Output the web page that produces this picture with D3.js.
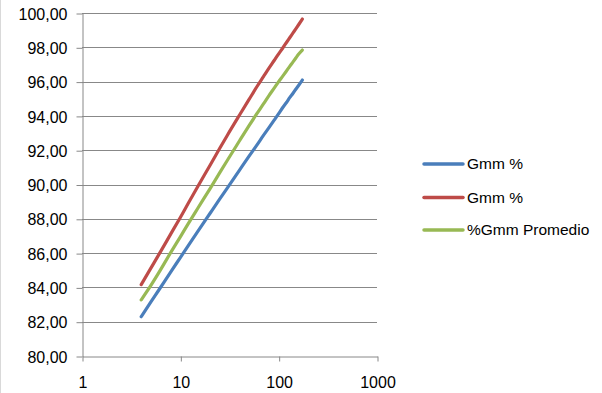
<!DOCTYPE html>
<html>
<head>
<meta charset="utf-8">
<script src="https://cdn.jsdelivr.net/npm/d3@7"></script>
<style>
  body { margin: 0; background: #fff; }
  svg { display: block; font-family: "Liberation Sans", Arial, sans-serif; }
</style>
</head>
<body>
<svg id="chart" width="602" height="393"></svg>
<script>
// gyraciones
var giros = [4, 5, 6, 8, 10, 12, 15, 20, 25, 30, 40, 50, 60, 70, 80, 90, 100, 110, 120, 130, 140, 150, 160, 174];
// series
var gmmA = [82.29, 83.14, 83.82, 84.91, 85.74, 86.42, 87.25, 88.31, 89.13, 89.79, 90.84, 91.65, 92.30, 92.86, 93.33, 93.75, 94.13, 94.49, 94.78, 95.08, 95.32, 95.57, 95.79, 96.09];
var gmmB = [84.16, 85.11, 85.88, 87.12, 88.08, 88.89, 89.87, 91.11, 92.08, 92.86, 94.05, 94.96, 95.70, 96.29, 96.80, 97.23, 97.62, 97.96, 98.28, 98.57, 98.84, 99.09, 99.33, 99.65];
var gmmProm = [83.27, 84.10, 84.83, 86.04, 86.95, 87.70, 88.60, 89.75, 90.66, 91.40, 92.55, 93.43, 94.13, 94.70, 95.20, 95.62, 96.00, 96.32, 96.62, 96.90, 97.15, 97.39, 97.61, 97.84];

var seriesNames = ["Gmm %", "Gmm %", "%Gmm Promedio"];
var seriesColors = ["#4a7ebb", "#be4b48", "#98b954"];
var xTicks = [1, 10, 100, 1000];
var yTicks = [80, 82, 84, 86, 88, 90, 92, 94, 96, 98, 100];

var svg = d3.select("#chart");
var m = {left: 82, right: 377, top: 13, bottom: 356};

var x = d3.scaleLog().domain([1, 1000]).range([m.left, m.right]);
var y = d3.scaleLinear().domain([80, 100]).range([m.bottom, m.top]);

// borde izquierdo del area del grafico
svg.append("line")
  .attr("x1", 0.5).attr("x2", 0.5).attr("y1", 0).attr("y2", 393)
  .attr("stroke", "#d9d9d9");

// lineas de division
svg.append("g").selectAll("line")
  .data(yTicks.slice(1))
  .enter().append("line")
  .attr("x1", m.left).attr("x2", m.right)
  .attr("y1", d => Math.round(y(d)) + 0.5)
  .attr("y2", d => Math.round(y(d)) + 0.5)
  .attr("stroke", "#888")
  .attr("stroke-width", 1);

// eje Y
var yAxis = svg.append("g")
  .attr("transform", "translate(" + (m.left + 0.5) + ",0.5)")
  .call(d3.axisLeft(y).tickValues(yTicks).tickSize(6).tickSizeOuter(0)
    .tickFormat(d => d3.format(".2f")(d).replace(".", ",")));
yAxis.select(".domain").attr("stroke", "#888");
yAxis.selectAll(".tick line").attr("stroke", "#888");
yAxis.selectAll(".tick text")
  .attr("x", -15).attr("dy", "0.35em")
  .attr("fill", "#000").attr("font-size", "16px")
  .attr("font-family", "Liberation Sans, Arial, sans-serif");

// eje X
var xAxis = svg.append("g")
  .attr("transform", "translate(0.5," + (m.bottom + 0.5) + ")")
  .call(d3.axisBottom(x).tickValues(xTicks).tickSize(5).tickSizeOuter(0)
    .tickFormat(d3.format("d")));
xAxis.select(".domain").attr("stroke", "#888");
xAxis.selectAll(".tick line").attr("stroke", "#888");
xAxis.selectAll(".tick text")
  .attr("y", 20).attr("dy", "0.71em")
  .attr("fill", "#000").attr("font-size", "16px")
  .attr("font-family", "Liberation Sans, Arial, sans-serif");

// series
var allSeries = [gmmA, gmmB, gmmProm];
var line = d3.line()
  .x((d, i) => x(giros[i]))
  .y(d => y(d))
  .curve(d3.curveMonotoneX);

allSeries.forEach(function(s, k) {
  svg.append("path")
    .datum(s)
    .attr("fill", "none")
    .attr("stroke", seriesColors[k])
    .attr("stroke-width", 3.2)
    .attr("stroke-linecap", "round")
    .attr("stroke-linejoin", "round")
    .attr("d", line);
});

// leyenda
var legend = svg.append("g");
var legY = [164, 197.5, 230];
seriesNames.forEach(function(name, k) {
  legend.append("line")
    .attr("x1", 424).attr("x2", 463)
    .attr("y1", legY[k]).attr("y2", legY[k])
    .attr("stroke", seriesColors[k])
    .attr("stroke-width", 3.5)
    .attr("stroke-linecap", "round");
  legend.append("text")
    .attr("x", 467).attr("y", legY[k])
    .attr("dy", "0.35em")
    .attr("font-size", "15.5px")
    .attr("fill", "#000")
    .text(name);
});
</script>
</body>
</html>
